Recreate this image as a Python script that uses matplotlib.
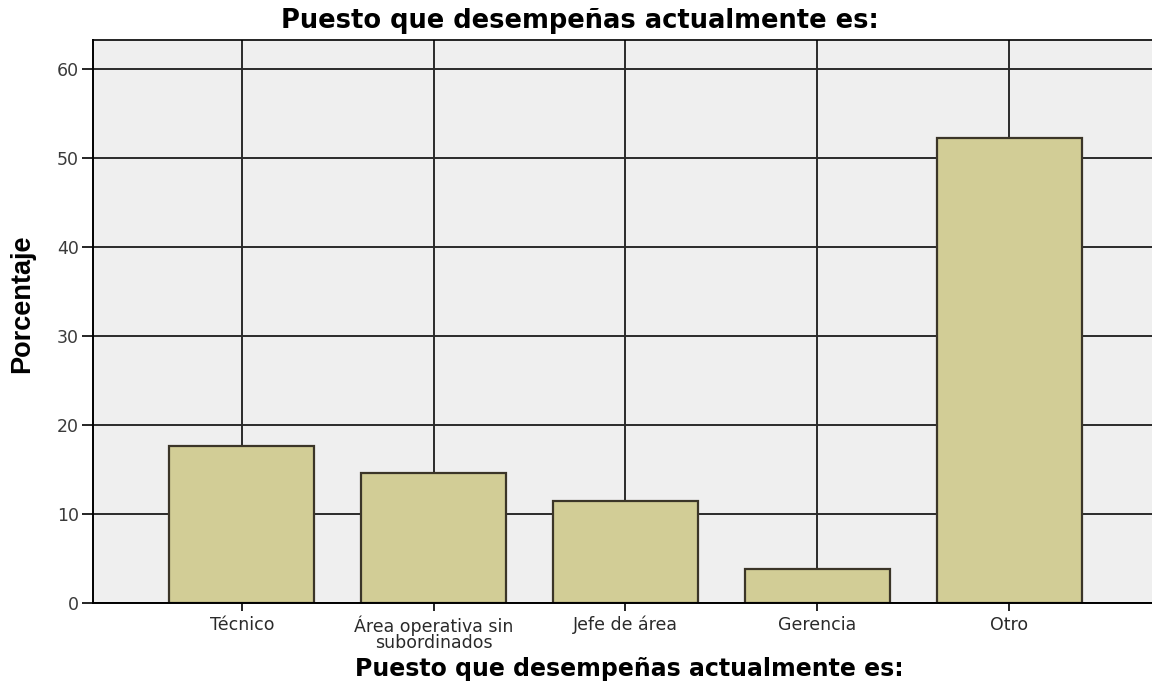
import matplotlib.pyplot as plt
import numpy as np

plt.rcParams['font.family'] = ['DejaVu Sans']

categorias = ['Técnico', 'Área operativa sin\nsubordinados', 'Jefe de área', 'Gerencia', 'Otro']
porcentajes = [17.7, 14.6, 11.5, 3.8, 52.3]
yticks = [0, 10, 20, 30, 40, 50, 60]

fig = plt.figure(figsize=(11.52, 6.85), dpi=100)
ax = fig.add_axes([0.0807, 0.1197, 0.9193, 0.8219])
ax.set_facecolor('#efefef')

x = np.arange(len(categorias))

# grid under the bars, like SPSS
for v in yticks:
    ax.axhline(v, color='#2a2a2a', lw=1.4, zorder=1)
for xi in x:
    ax.axvline(xi, color='#2a2a2a', lw=1.4, zorder=1)

ax.bar(x, porcentajes, width=0.755, color='#d2cd96', edgecolor='#3b3528', lw=1.6, zorder=2)

ax.set_xlim(-0.776, 4.745)
ax.set_ylim(0, 63.3)
ax.set_yticks(yticks)
ax.set_xticks(x)
ax.set_xticklabels(categorias, fontsize=12.5, color='#2a2a2a', linespacing=0.88)
ax.tick_params(axis='y', length=8, width=1.2, labelsize=12.5, labelcolor='#3a3a3a', pad=2)
ax.tick_params(axis='x', length=6, width=1.2, pad=3)

ax.spines['right'].set_visible(False)
ax.spines['left'].set_linewidth(1.4)
ax.spines['bottom'].set_linewidth(1.4)
ax.spines['top'].set_linewidth(1.2)

fig.text(0.019, 0.556, 'Porcentaje', fontsize=19.5, fontweight='bold', rotation=90,
         ha='center', va='center', family=['Liberation Sans Narrow', 'Liberation Sans'])
fig.text(0.546, 0.024, 'Puesto que desempeñas actualmente es:', fontsize=17,
         fontweight='bold', ha='center', va='center')
fig.text(0.503, 0.97, 'Puesto que desempeñas actualmente es:', fontsize=18.5,
         fontweight='bold', ha='center', va='center')

fig.savefig('out.png', dpi=100)
